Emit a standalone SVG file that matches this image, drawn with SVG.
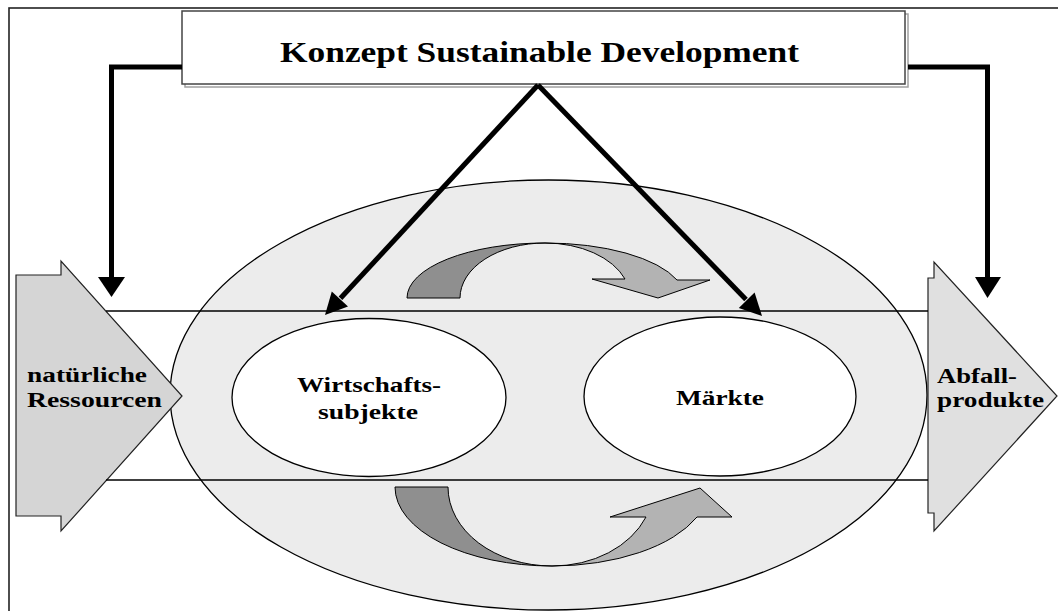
<svg xmlns="http://www.w3.org/2000/svg" width="1058" height="611" viewBox="0 0 1058 611">
<style>
.lbl{font-family:"Liberation Serif","Times New Roman",serif;font-weight:bold;fill:#000}
.thin{stroke:#000;stroke-width:1.3;fill:none}
.conn{stroke:#000;stroke-width:5;fill:none;stroke-linejoin:miter}
.head{fill:#000;stroke:none}
</style>
<rect width="1058" height="611" fill="#fff"/>
<rect x="9" y="8" width="1070" height="620" fill="none" stroke="#222" stroke-width="1.6"/>

<g id="umfeld">
<ellipse cx="548.5" cy="395" rx="378.5" ry="215" fill="#ececec" stroke="#000" stroke-width="1.3"/>
</g>

<g id="ressourcen">
<path d="M16,275 L61,275 L61,261 L182,396 L61,531 L61,516 L16,516 Z" fill="#d5d5d5" stroke="#222" stroke-width="1.2"/>
<text class="lbl" x="27" y="382" font-size="20" textLength="120" lengthAdjust="spacingAndGlyphs">natürliche</text>
<text class="lbl" x="27" y="407" font-size="20" textLength="135" lengthAdjust="spacingAndGlyphs">Ressourcen</text>
</g>

<g id="abfall">
<path d="M928,278 L934,278 L934,262 L1057,396 L934,531 L934,513 L928,513 Z" fill="#e0e0e0" stroke="#222" stroke-width="1.2"/>
<text class="lbl" x="937" y="383" font-size="20" textLength="80" lengthAdjust="spacingAndGlyphs">Abfall-</text>
<text class="lbl" x="937" y="407" font-size="20" textLength="107" lengthAdjust="spacingAndGlyphs">produkte</text>
</g>

<g id="fluss">
<line class="thin" x1="106" y1="311" x2="928" y2="311"/>
<line class="thin" x1="106" y1="480" x2="928" y2="480"/>
</g>

<g id="kreislauf-oben">
<path d="M407,298 A138,55 0 0 1 545,243 A85,55 0 0 0 460,298 Z" fill="#8f8f8f" stroke="#000" stroke-width="1"/>
<path d="M545,243 A139,55 0 0 1 677,280 L710,280 L658,298 L592,279 L625,279 A85,55 0 0 0 545,243 Z" fill="#b3b3b3" stroke="#000" stroke-width="1"/>
</g>

<g id="kreislauf-unten">
<path d="M395,487 L448,487 A104,79 0 0 0 552,566 A157,79 0 0 1 395,487 Z" fill="#8f8f8f" stroke="#000" stroke-width="1"/>
<path d="M552,566 A157,79 0 0 0 697,517 L732,517 L700,488 L610,517 L646,517 A101,79 0 0 1 552,566 Z" fill="#b3b3b3" stroke="#000" stroke-width="1"/>
</g>

<g id="wirtschaftssubjekte">
<ellipse cx="369" cy="397.5" rx="137" ry="79" fill="#fff" stroke="#000" stroke-width="1.3"/>
<text class="lbl" x="297" y="392" font-size="21" textLength="144" lengthAdjust="spacingAndGlyphs">Wirtschafts-</text>
<text class="lbl" x="318" y="419" font-size="21" textLength="100" lengthAdjust="spacingAndGlyphs">subjekte</text>
</g>

<g id="maerkte">
<ellipse cx="720" cy="396.5" rx="136" ry="79.5" fill="#fff" stroke="#000" stroke-width="1.3"/>
<text class="lbl" x="676" y="405" font-size="21" textLength="88" lengthAdjust="spacingAndGlyphs">Märkte</text>
</g>

<g id="konzept">
<rect x="185" y="14" width="723" height="73" fill="#fff" stroke="#a0a0a0" stroke-width="1.5"/>
<rect x="182" y="11" width="723" height="73" fill="#fff" stroke="#444" stroke-width="1.5"/>
<text class="lbl" x="280" y="62" font-size="30" textLength="519" lengthAdjust="spacingAndGlyphs">Konzept Sustainable Development</text>
</g>

<g id="connectors">
<polyline class="conn" points="182,67 111.5,67 111.5,278"/>
<polygon class="head" points="98,277 125,277 111.5,297"/>
<polyline class="conn" points="908,67 987.5,67 987.5,278"/>
<polygon class="head" points="975,277 1001,277 987.5,298"/>
<line class="conn" x1="538" y1="85" x2="340.5" y2="298.3"/>
<polygon class="head" points="325,315 348,306.4 331.8,291.4"/>
<line class="conn" x1="538" y1="85" x2="746" y2="299.5"/>
<polygon class="head" points="762,316 738.8,307.9 754.6,292.5"/>
</g>
</svg>
